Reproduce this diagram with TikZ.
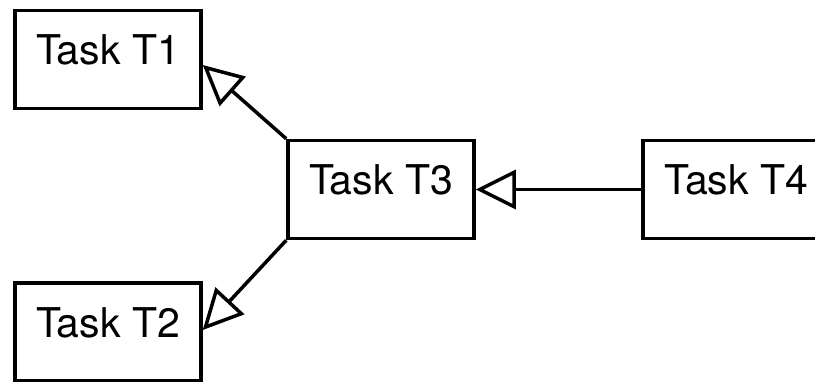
\documentclass[tikz,border=0pt]{standalone}
\usepackage{fontspec}
\setmainfont{TeX Gyre Heros}
\usetikzlibrary{arrows.meta}

\begin{document}
\begin{tikzpicture}[x=1pt,y=-1pt,
  task/.style={draw, line width=3.5pt, rectangle, inner xsep=0pt, inner ysep=0pt,
    minimum width=186pt, text height=54pt, text depth=44pt,
    font=\fontsize{41}{49}\selectfont},
  inherit/.style={draw, line width=3.5pt,
    -{Triangle[open, length=40pt, width=39pt]}}]
  \useasboundingbox (0,0) rectangle (815,381);
  \clip (0,0) rectangle (815,381);

  % task boxes
  \node[task] (t1) at (108,59.5) {Task T1};
  \node[task] (t2) at (108,332) {Task T2};
  \node[task] (t3) at (381,189.5) {Task T3};
  \node[task] (t4) at (736,189.5) {Task T4};

  % generalisation arrows
  \draw[inherit] (t3.north west) -- ([yshift=-5.5pt]t1.east);
  \draw[inherit] (t3.south west) -- ([yshift=2pt]t2.east);
  \draw[inherit] (t4.west) -- (t3.east);
\end{tikzpicture}
\end{document}
